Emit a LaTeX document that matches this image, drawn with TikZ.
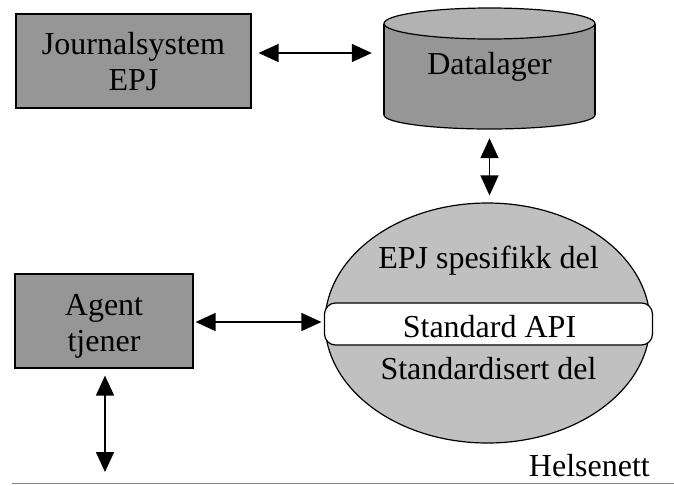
\documentclass[tikz,border=0pt]{standalone}
\usepackage{fontspec}
\setmainfont{Liberation Serif}
\usetikzlibrary{arrows.meta,shapes.geometric}
\definecolor{boxgray}{RGB}{150,150,150}
\definecolor{topgray}{RGB}{178,178,178}
\definecolor{ellgray}{RGB}{192,192,192}
\definecolor{linegray}{RGB}{128,128,128}
\tikzset{
  graybox/.style={draw=black, line width=1.2pt, fill=boxgray, inner sep=0pt},
  txt/.style={anchor=base, inner sep=0pt, font=\fontsize{32}{36}\selectfont},
  dar/.style={{Triangle[length=20pt,width=18pt]}-{Triangle[length=20pt,width=18pt]}, line width=1.5pt},
}
\begin{document}
\begin{tikzpicture}[x=1pt,y=-1pt]
\useasboundingbox (0,0) rectangle (674,485);
% boxes
\node[graybox, minimum width=235pt, minimum height=94pt] (js) at (133.5,61) {};
\node[txt] (jst1) at (133.5,54.3) {Journalsystem};
\node[txt] (jst2) at (133.5,90.7) {EPJ};
\node[graybox, minimum width=178pt, minimum height=94pt] (ag) at (104,321) {};
\node[txt] (agt1) at (104,315) {Agent};
\node[txt] (agt2) at (104,351) {tjener};
% cylinder
\fill[boxgray, draw=black, line width=1.2pt] (489.5,115) ellipse [x radius=105.5, y radius=14];
\fill[boxgray] (384,23.5) rectangle (595,115);
\draw[line width=1.2pt] (384,23.5) -- (384,115) (595,23.5) -- (595,115);
\filldraw[fill=topgray, draw=black, line width=1.2pt] (489.5,23.5) ellipse [x radius=105.5, y radius=15.5];
\node[inner sep=0pt, minimum width=211pt, minimum height=121pt] (dl) at (489.5,68.5) {};
\node[txt] (dlt) at (489.5,74) {Datalager};
% ellipse
\node[ellipse, draw=black, line width=1.2pt, fill=ellgray, minimum width=325pt, minimum height=240pt, inner sep=0pt] (el) at (487.5,323) {};
\node[draw=black, line width=1.2pt, fill=white, rounded corners=11pt, minimum width=328pt, minimum height=42pt, inner sep=0pt] (api) at (488.5,324) {};
\node[txt] (elt1) at (488.5,268) {EPJ spesifikk del};
\node[txt] (apit) at (489.5,337) {Standard API};
\node[txt] (elt2) at (488.5,379) {Standardisert del};
% connectors
\coordinate (jsarr) at ([xshift=7pt,yshift=8pt]js.east);
\draw[dar] (jsarr) -- ([xshift=-12pt]dl.west |- jsarr);
\draw[dar] ([yshift=-9pt]dl.south) -- ([yshift=7pt]el.north -| dl.south);
\coordinate (agarr) at ([xshift=2pt,yshift=-1pt]ag.east);
\draw[dar] (agarr) -- ([xshift=-3pt]el.west |- agarr);
\coordinate (down) at (105,472);
\draw[dar] ([yshift=-7pt]ag.south -| down) -- (down);
% Helsenett
\node[txt, anchor=base east] (hn) at (650,476.7) {Helsenett};
\draw[linegray, line width=1.5pt] (12,483.5) coordinate (l1) -- (674,483.5) coordinate (l2);
\end{tikzpicture}
\end{document}
